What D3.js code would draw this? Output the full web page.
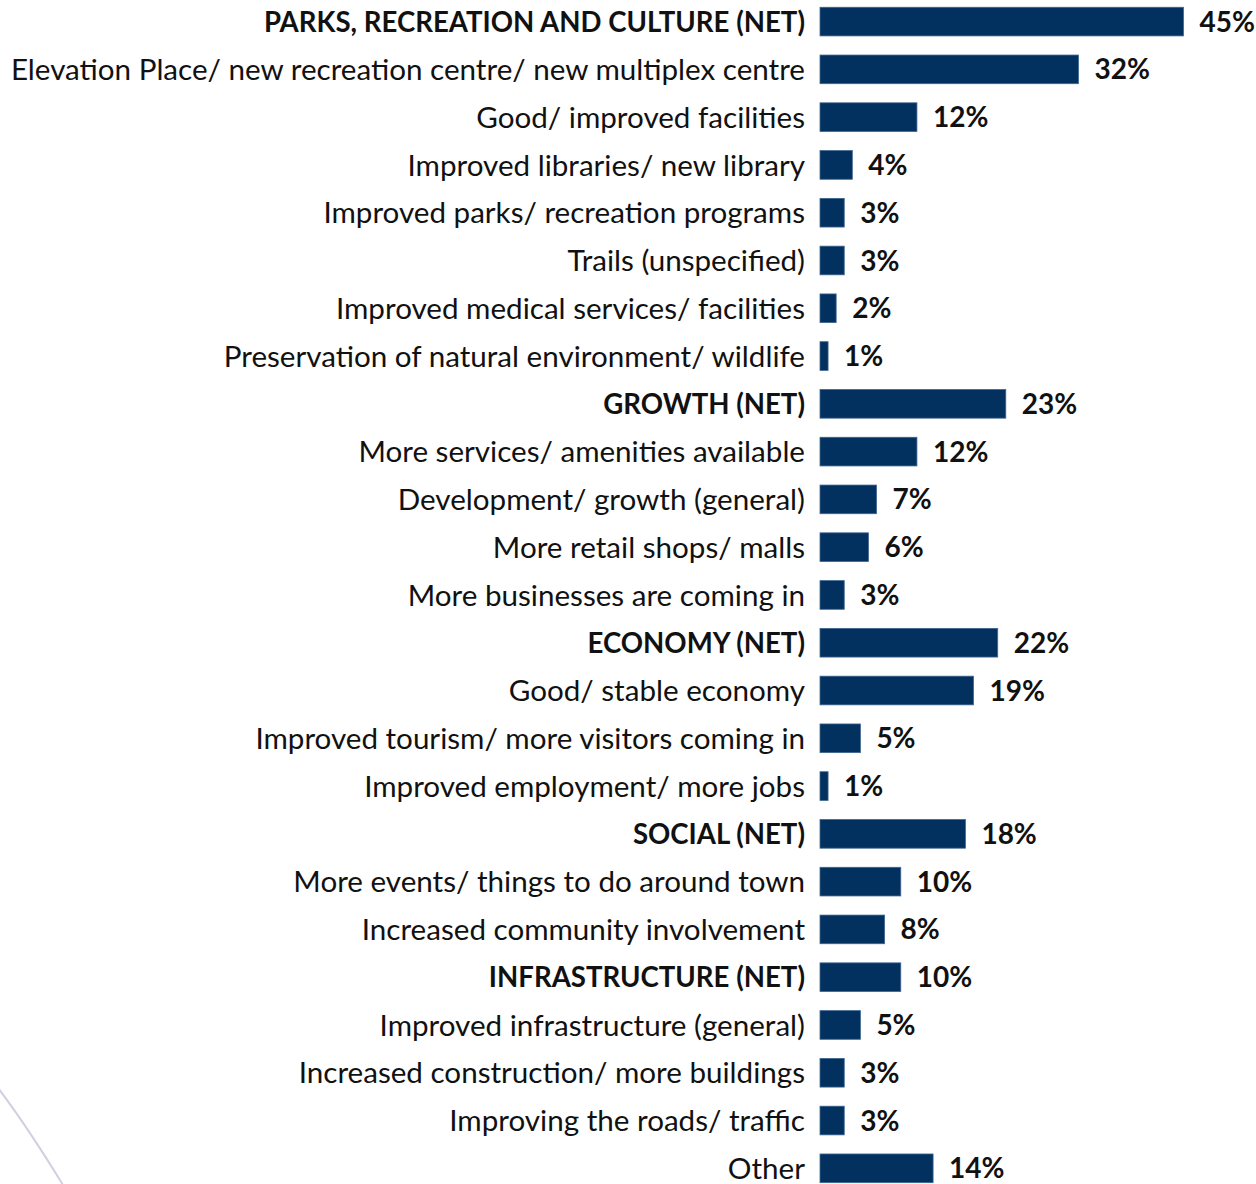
<!DOCTYPE html>
<html>
<head>
<meta charset="utf-8">
<script src="https://cdn.jsdelivr.net/npm/d3@7"></script>
<style>
  html, body { margin: 0; padding: 0; background: #ffffff; }
  svg { display: block; }
</style>
</head>
<body>
<div id="chart"></div>
<script>
// Responses, in display order
const categories = [
  "PARKS, RECREATION AND CULTURE (NET)",
  "Elevation Place/ new recreation centre/ new multiplex centre",
  "Good/ improved facilities",
  "Improved libraries/ new library",
  "Improved parks/ recreation programs",
  "Trails (unspecified)",
  "Improved medical services/ facilities",
  "Preservation of natural environment/ wildlife",
  "GROWTH (NET)",
  "More services/ amenities available",
  "Development/ growth (general)",
  "More retail shops/ malls",
  "More businesses are coming in",
  "ECONOMY (NET)",
  "Good/ stable economy",
  "Improved tourism/ more visitors coming in",
  "Improved employment/ more jobs",
  "SOCIAL (NET)",
  "More events/ things to do around town",
  "Increased community involvement",
  "INFRASTRUCTURE (NET)",
  "Improved infrastructure (general)",
  "Increased construction/ more buildings",
  "Improving the roads/ traffic",
  "Other"
];

// Percent of respondents
const values = [45, 32, 12, 4, 3, 3, 2, 1, 23, 12, 7, 6, 3, 22, 19, 5, 1, 18, 10, 8, 10, 5, 3, 3, 14];

// Net (summary) rows are set in bold
const netRows = [
  "PARKS, RECREATION AND CULTURE (NET)",
  "GROWTH (NET)",
  "ECONOMY (NET)",
  "SOCIAL (NET)",
  "INFRASTRUCTURE (NET)"
];

const W = 1256, H = 1184;
const FONT = "Lato, 'Open Sans', sans-serif";

const svg = d3.select("#chart").append("svg")
  .attr("width", W).attr("height", H);

// decorative arc in the lower-left corner
const arc = d3.path();
arc.moveTo(-8, 1080);
arc.quadraticCurveTo(26, 1124, 66, 1190);
svg.append("path")
  .attr("d", arc.toString())
  .attr("fill", "none")
  .attr("stroke", "#d3cfe3")
  .attr("stroke-width", 2);

const rows = categories.map((c, i) => ({ cat: c, val: values[i], net: netRows.includes(c) }));

const y = d3.scaleBand()
  .domain(categories)
  .range([-2.3, 1192.2])
  .paddingInner(0.4)
  .paddingOuter(0.2);

const x = d3.scaleLinear()
  .domain([0, 45])
  .range([820, 1183.5]);

const g = svg.append("g");

g.selectAll("rect.bar")
  .data(rows)
  .join("rect")
  .attr("class", "bar")
  .attr("x", x(0))
  .attr("y", d => y(d.cat))
  .attr("width", d => x(d.val) - x(0))
  .attr("height", y.bandwidth())
  .attr("fill", "#02315f")
  .attr("stroke", "#3f6690")
  .attr("stroke-width", 0.8);

g.selectAll("text.cat")
  .data(rows)
  .join("text")
  .attr("class", "cat")
  .attr("x", 805)
  .attr("y", d => y(d.cat) + y.bandwidth() / 2)
  .attr("dy", "0.36em")
  .attr("text-anchor", "end")
  .attr("font-family", FONT)
  .attr("font-size", d => d.net ? 27.6 : 29.6)
  .attr("font-weight", d => d.net ? 700 : 400)
  .attr("fill", "#111111")
  .text(d => d.cat);

g.selectAll("text.val")
  .data(rows)
  .join("text")
  .attr("class", "val")
  .attr("x", d => x(d.val) + 16)
  .attr("y", d => y(d.cat) + y.bandwidth() / 2)
  .attr("dy", "0.36em")
  .attr("font-family", FONT)
  .attr("font-size", 28)
  .attr("font-weight", 700)
  .attr("fill", "#111111")
  .text(d => d.val + "%");
</script>
</body>
</html>
